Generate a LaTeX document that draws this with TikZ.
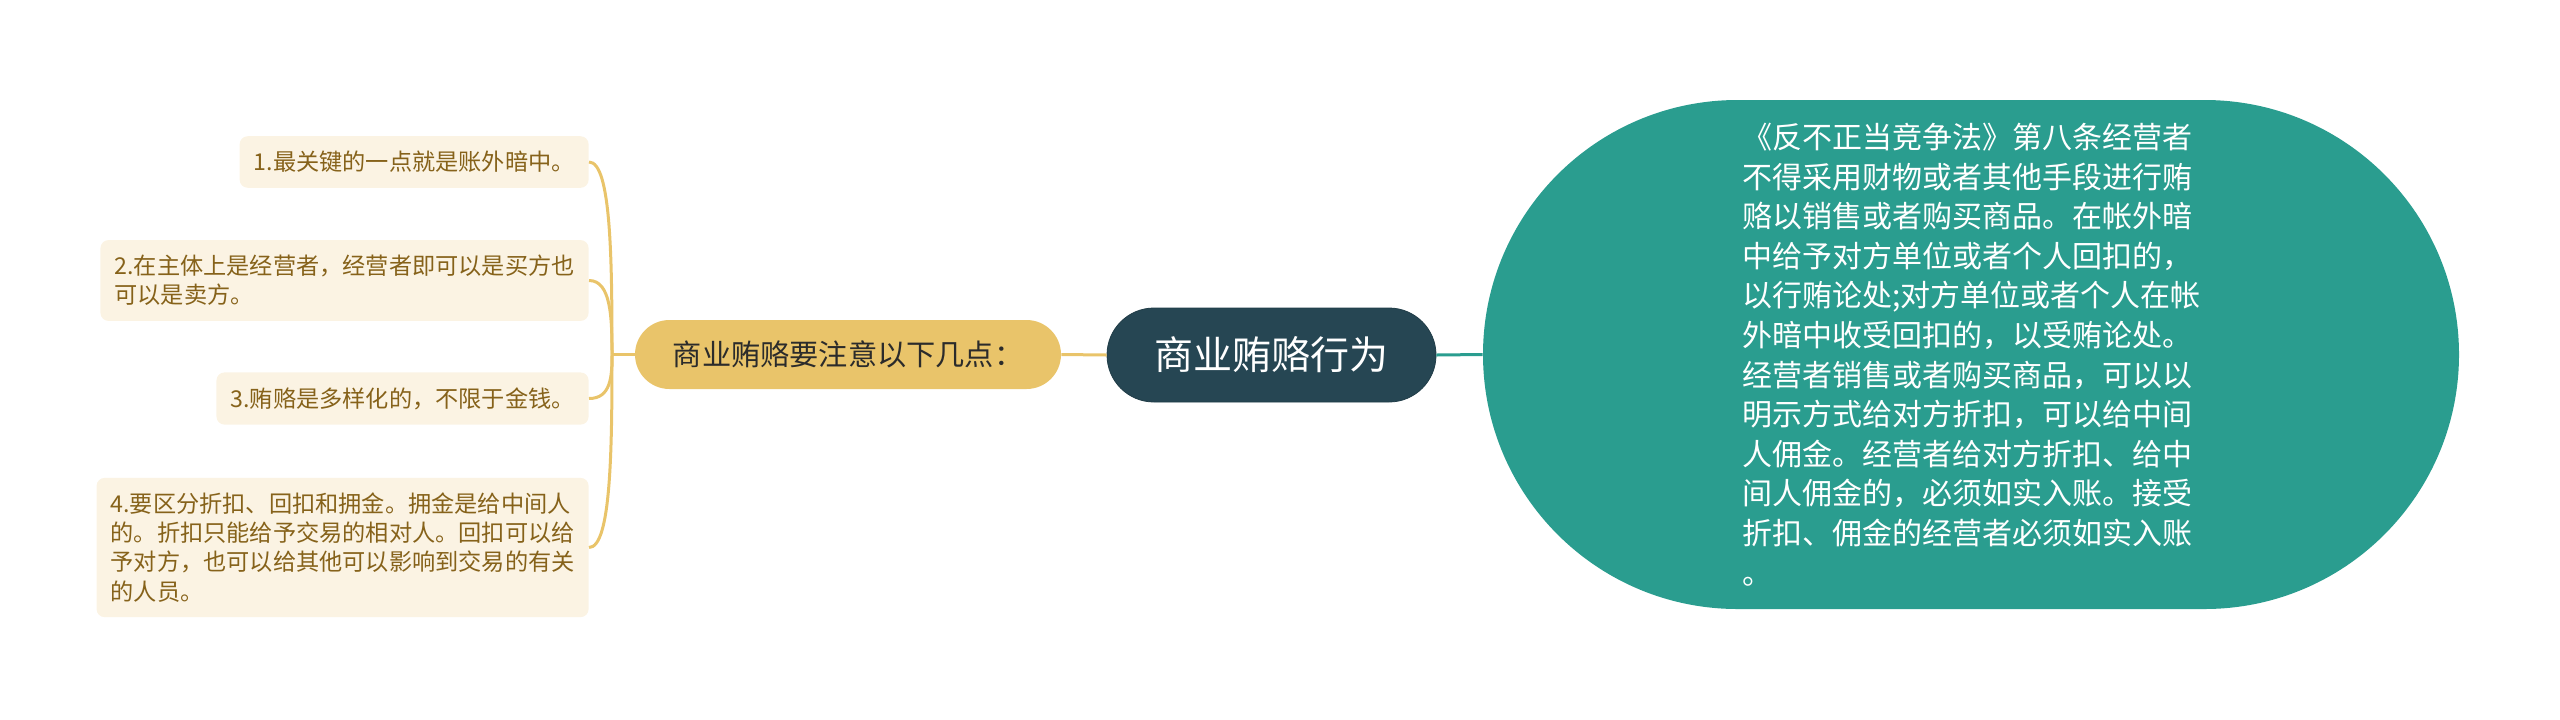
\documentclass[tikz,border=0pt]{standalone}
\usepackage{fontspec}
\newfontfamily\cjk{Noto Sans CJK SC}
\usetikzlibrary{shapes.misc}
\definecolor{lawGreen}{HTML}{2A9D8F}
\definecolor{rootBlue}{HTML}{264653}
\definecolor{subGold}{HTML}{E9C46A}
\definecolor{subText}{HTML}{2B2B2B}
\definecolor{pointFill}{HTML}{FBF3E3}
\definecolor{pointText}{HTML}{86621A}
\begin{document}
\begin{tikzpicture}[x=0.5pt, y=-0.5pt,
    rootStyle/.style={rounded rectangle, fill=rootBlue, draw=rootBlue!85!black, text=white, font=\cjk\fontsize{19.5}{23}\selectfont, minimum width=164.5pt, minimum height=47pt, inner sep=0pt},
    subStyle/.style={rounded rectangle, fill=subGold, text=subText, font=\cjk\fontsize{14.6}{18}\selectfont, minimum width=213pt, minimum height=34.5pt, inner sep=0pt},
    pointStyle/.style={rectangle, rounded corners=4pt, fill=pointFill, text=pointText, font=\cjk\fontsize{11.6}{14.6}\selectfont, align=left, inner xsep=7pt, inner ysep=7.5pt, anchor=east},
    lawStyle/.style={rounded rectangle, fill=lawGreen, text=white, font=\cjk\fontsize{15}{19.8}\selectfont, text width=229pt, align=left, minimum width=488pt, minimum height=254.5pt, inner sep=0pt},
    branchStyle/.style={draw=subGold, line width=1.5pt},
    linkStyle/.style={draw=lawGreen, line width=1.5pt}]
    \useasboundingbox (0,0) rectangle (2560,719);
    \node[pointStyle] (point_1) at (589, 162.0) {1.最关键的一点就是账外暗中。};
    \node[pointStyle] (point_2) at (589, 280.5) {2.在主体上是经营者，经营者即可以是买方也\\可以是卖方。};
    \node[pointStyle] (point_3) at (589, 398.5) {3.贿赂是多样化的，不限于金钱。};
    \node[pointStyle] (point_4) at (589, 547.5) {4.要区分折扣、回扣和拥金。拥金是给中间人\\的。折扣只能给予交易的相对人。回扣可以给\\予对方，也可以给其他可以影响到交易的有关\\的人员。};
    \node[subStyle]   (sub_0)   at (848, 354.5) {商业贿赂要注意以下几点：};
    \node[rootStyle]  (root)    at (1271.5, 355) {商业贿赂行为};
    \node[lawStyle]   (law_0)   at (1971, 354.5) {《反不正当竞争法》第八条经营者\\不得采用财物或者其他手段进行贿\\赂以销售或者购买商品。在帐外暗\\中给予对方单位或者个人回扣的，\\以行贿论处;对方单位或者个人在帐\\外暗中收受回扣的，以受贿论处。\\经营者销售或者购买商品，可以以\\明示方式给对方折扣，可以给中间\\人佣金。经营者给对方折扣、给中\\间人佣金的，必须如实入账。接受\\折扣、佣金的经营者必须如实入账\\。};
    \coordinate (hub_0) at (612, 354.5);
    \draw[branchStyle] (sub_0.west) -- (hub_0);
    \draw[branchStyle] (hub_0) .. controls +(0,-96) and +(22,0) .. (point_1.east);
    \draw[branchStyle] (hub_0) .. controls +(0,-37) and +(22,0) .. (point_2.east);
    \draw[branchStyle] (hub_0) .. controls +(0,22) and +(22,0) .. (point_3.east);
    \draw[branchStyle] (hub_0) .. controls +(0,96) and +(22,0) .. (point_4.east);
    \draw[branchStyle] (sub_0.east) -- (root.west);
    \draw[linkStyle] (root.east) -- (law_0.west);
\end{tikzpicture}
\end{document}
